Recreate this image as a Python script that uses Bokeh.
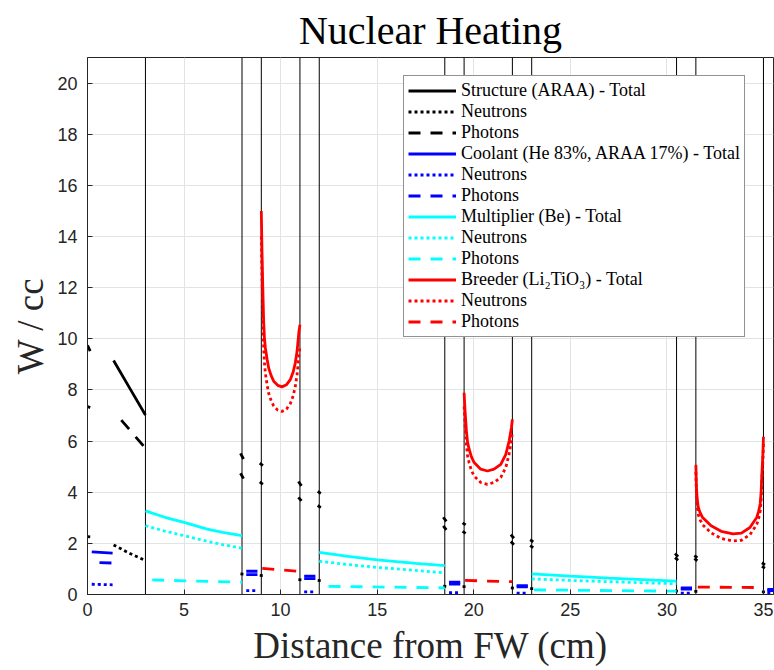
from bokeh.plotting import figure
from bokeh.models import Legend, LegendItem, FixedTicker, Title
from bokeh.embed import file_html
from bokeh.resources import INLINE

# ---------------------------------------------------------------- data (W/cc)
# Layer boundaries along the radial build (cm)
BOUNDS = [3, 8, 9, 11, 12, 18.5, 19.5, 22, 23, 30.5, 31.5, 35]

# First wall: front structure skin, He channel, back structure
FW_SKIN_X = [0.0, 0.14]
FW_SKIN_TOTAL = [9.74, 9.52]
FW_SKIN_NEUT = [2.26, 2.25]
FW_SKIN_PHOT = [7.35, 7.31]

FW_CH_X = [0.22, 1.30]
FW_CH_TOTAL = [1.67, 1.62]
FW_CH_NEUT = [0.40, 0.38]
FW_CH_PHOT_X = [0.62, 1.30]
FW_CH_PHOT = [1.25, 1.23]

FW_BACK_X = [1.35, 2.2, 3.0]
FW_BACK_TOTAL = [9.15, 8.05, 7.02]
FW_BACK_NEUT = [1.94, 1.60, 1.33]
FW_BACK_PHOT_X = [1.75, 3.0]
FW_BACK_PHOT = [6.82, 5.72]

# Cooling plates: thin structure skins at each plate edge (start, end values)
PLATE_EDGES = [8, 9, 11, 12, 18.5, 19.5, 22, 23, 30.5, 31.5, 35]
SKIN_TOTAL_A = [5.52, 5.14, 4.42, 4.03, 3.02, 2.80, 2.34, 2.14, 1.60, 1.52, 1.24]
SKIN_TOTAL_B = [5.30, 5.04, 4.25, 3.95, 2.86, 2.72, 2.20, 2.06, 1.48, 1.44, 1.16]
SKIN_PHOT_A = [4.74, 4.40, 3.80, 3.48, 2.68, 2.47, 2.07, 1.91, 1.44, 1.40, 1.10]
SKIN_PHOT_B = [4.53, 4.31, 3.66, 3.40, 2.53, 2.39, 1.95, 1.83, 1.34, 1.32, 1.03]
SKIN_NEUT_A = [0.81, 0.75, 0.58, 0.55, 0.33, 0.31, 0.26, 0.23, 0.14, 0.12, 0.10]
SKIN_NEUT_B = [0.80, 0.74, 0.57, 0.54, 0.32, 0.31, 0.25, 0.23, 0.13, 0.12, 0.10]

# Helium inside each cooling plate
PLATE_COOL_X0 = [8.22, 11.22, 18.72, 22.22, 30.72, 35.2]
PLATE_COOL_X1 = [8.80, 11.80, 19.30, 22.80, 31.30, 35.6]
PLATE_COOL_TOTAL = [0.91, 0.72, 0.48, 0.35, 0.26, 0.20]
PLATE_COOL_PHOT = [0.78, 0.62, 0.41, 0.30, 0.21, 0.15]
PLATE_COOL_NEUT = [0.15, 0.10, 0.07, 0.05, 0.05, 0.05]

# Beryllium multiplier zones
MULT_A_X = [3.0, 4.0, 5.0, 6.2, 7.0, 8.0]
MULT_A_TOTAL = [3.27, 3.02, 2.82, 2.56, 2.43, 2.30]
MULT_A_NEUT = [2.69, 2.48, 2.30, 2.08, 1.95, 1.81]
MULT_A_PHOT_X = [3.35, 8.0]
MULT_A_PHOT = [0.57, 0.48]

MULT_B_X = [12.0, 13.5, 15.0, 17.0, 18.5]
MULT_B_TOTAL = [1.65, 1.49, 1.35, 1.22, 1.13]
MULT_B_NEUT = [1.30, 1.17, 1.06, 0.94, 0.85]
MULT_B_PHOT_X = [12.48, 18.5]
MULT_B_PHOT = [0.32, 0.26]

MULT_C_X = [23.0, 25.0, 27.0, 30.5]
MULT_C_TOTAL = [0.81, 0.72, 0.64, 0.52]
MULT_C_NEUT = [0.61, 0.55, 0.50, 0.42]
MULT_C_PHOT_X = [23.12, 30.5]
MULT_C_PHOT = [0.18, 0.13]

# Li2TiO3 breeder zones
BR_A_X = [9.0, 9.03, 9.07, 9.12, 9.16, 9.21, 9.3, 9.38, 9.5, 9.64, 9.85, 10.07,
          10.3, 10.5, 10.65, 10.76, 10.85, 10.9, 10.95, 11.0]
BR_A_TOTAL = [15.0, 13.6, 12.2, 10.7, 10.05, 9.64, 9.2, 8.86, 8.58, 8.34, 8.18, 8.12,
              8.2, 8.4, 8.7, 9.06, 9.5, 9.9, 10.3, 10.55]
BR_A_NEUT = [14.0, 12.6, 11.2, 9.7, 9.07, 8.65, 8.2, 7.87, 7.6, 7.37, 7.21, 7.16,
             7.25, 7.46, 7.77, 8.14, 8.59, 8.99, 9.39, 9.65]
BR_A_PHOT_X = [9.05, 11.0]
BR_A_PHOT = [1.02, 0.90]

BR_B_X = [19.5, 19.55, 19.62, 19.68, 19.76, 19.88, 20.02, 20.36, 20.71, 21.05,
          21.4, 21.66, 21.83, 21.95, 22.0]
BR_B_TOTAL = [7.89, 7.17, 6.39, 5.95, 5.68, 5.38, 5.16, 4.9, 4.83, 4.9,
              5.09, 5.48, 6.0, 6.52, 6.85]
BR_B_NEUT = [7.35, 6.63, 5.85, 5.42, 5.15, 4.85, 4.63, 4.38, 4.31, 4.38,
             4.58, 4.97, 5.49, 6.02, 6.35]
BR_B_PHOT_X = [19.55, 22.0]
BR_B_PHOT = [0.55, 0.50]

BR_C_X = [31.5, 31.53, 31.57, 31.62, 31.72, 31.85, 32.29, 32.81, 33.42, 33.86,
          34.3, 34.65, 34.75, 34.83, 34.88, 34.91, 34.97, 35.0]
BR_C_TOTAL = [5.07, 4.18, 3.75, 3.42, 3.2, 3.01, 2.69, 2.47, 2.37, 2.4,
              2.62, 3.01, 3.25, 3.54, 4.0, 4.57, 5.48, 6.17]
BR_C_NEUT = [4.79, 3.9, 3.47, 3.14, 2.92, 2.73, 2.41, 2.19, 2.09, 2.12,
             2.34, 2.73, 2.97, 3.26, 3.72, 4.29, 5.2, 5.89]
BR_C_PHOT_X = [31.6, 35.0]
BR_C_PHOT = [0.29, 0.27]

X_TICKS = [0, 5, 10, 15, 20, 25, 30, 35]
Y_TICKS = [0, 2, 4, 6, 8, 10, 12, 14, 16, 18, 20]

# ---------------------------------------------------------------- segments
SKIN_HALF = 0.08


def skins(a_vals, b_vals):
    xs = [[e - SKIN_HALF, e + SKIN_HALF] for e in PLATE_EDGES]
    ys = [[a, b] for a, b in zip(a_vals, b_vals)]
    return xs, ys


def plate_cool(vals):
    xs = [[x0, x1] for x0, x1 in zip(PLATE_COOL_X0, PLATE_COOL_X1)]
    ys = [[v, v] for v in vals]
    return xs, ys


st_tot_xs, st_tot_ys = skins(SKIN_TOTAL_A, SKIN_TOTAL_B)
st_neu_xs, st_neu_ys = skins(SKIN_NEUT_A, SKIN_NEUT_B)
st_pho_xs, st_pho_ys = skins(SKIN_PHOT_A, SKIN_PHOT_B)

co_tot_xs, co_tot_ys = plate_cool(PLATE_COOL_TOTAL)
co_neu_xs, co_neu_ys = plate_cool(PLATE_COOL_NEUT)
co_pho_xs, co_pho_ys = plate_cool(PLATE_COOL_PHOT)

series = [
    # (label, color, style, xs, ys)
    ("Structure (ARAA) - Total", "black", "solid",
     [FW_SKIN_X, FW_BACK_X] + st_tot_xs, [FW_SKIN_TOTAL, FW_BACK_TOTAL] + st_tot_ys),
    ("Neutrons", "black", "dot",
     [FW_SKIN_X, FW_BACK_X] + st_neu_xs, [FW_SKIN_NEUT, FW_BACK_NEUT] + st_neu_ys),
    ("Photons", "black", "dash",
     [FW_SKIN_X, FW_BACK_PHOT_X] + st_pho_xs, [FW_SKIN_PHOT, FW_BACK_PHOT] + st_pho_ys),
    ("Coolant (He 83%, ARAA 17%) - Total", "#0000ff", "solid",
     [FW_CH_X] + co_tot_xs, [FW_CH_TOTAL] + co_tot_ys),
    ("Neutrons", "#0000ff", "dot",
     [FW_CH_X] + co_neu_xs, [FW_CH_NEUT] + co_neu_ys),
    ("Photons", "#0000ff", "dash",
     [FW_CH_PHOT_X] + co_pho_xs, [FW_CH_PHOT] + co_pho_ys),
    ("Multiplier (Be) - Total", "#00ffff", "solid",
     [MULT_A_X, MULT_B_X, MULT_C_X], [MULT_A_TOTAL, MULT_B_TOTAL, MULT_C_TOTAL]),
    ("Neutrons", "#00ffff", "dot",
     [MULT_A_X, MULT_B_X, MULT_C_X], [MULT_A_NEUT, MULT_B_NEUT, MULT_C_NEUT]),
    ("Photons", "#00ffff", "dash",
     [MULT_A_PHOT_X, MULT_B_PHOT_X, MULT_C_PHOT_X], [MULT_A_PHOT, MULT_B_PHOT, MULT_C_PHOT]),
    ("Breeder (Li\u2082TiO\u2083) - Total", "#ff0000", "solid",
     [BR_A_X, BR_B_X, BR_C_X], [BR_A_TOTAL, BR_B_TOTAL, BR_C_TOTAL]),
    ("Neutrons", "#ff0000", "dot",
     [BR_A_X, BR_B_X, BR_C_X], [BR_A_NEUT, BR_B_NEUT, BR_C_NEUT]),
    ("Photons", "#ff0000", "dash",
     [BR_A_PHOT_X, BR_B_PHOT_X, BR_C_PHOT_X], [BR_A_PHOT, BR_B_PHOT, BR_C_PHOT]),
]

DASHES = {"solid": "solid", "dot": "3 3", "dash": "12 10"}

# ---------------------------------------------------------------- figure
SERIF = "Liberation Serif"
SANS = "Liberation Sans"

p = figure(width=774, height=670, x_range=(0, 35.52), y_range=(0, 21),
           output_backend="svg", toolbar_location=None,
           min_border_left=87, min_border_right=1,
           min_border_top=57, min_border_bottom=76)

p.title.text = "Nuclear Heating"
p.title.align = "center"
p.title.text_font = SERIF
p.title.text_font_style = "normal"
p.title.text_font_size = "40px"
p.title.text_color = "black"
p.title.offset = 0
p.title.standoff = 10

p.outline_line_color = "#262626"
p.outline_line_width = 1
p.background_fill_color = "white"
p.border_fill_color = "white"

p.xgrid.grid_line_color = "#e3e3e3"
p.ygrid.grid_line_color = "#e3e3e3"

p.xaxis.ticker = FixedTicker(ticks=X_TICKS)
p.yaxis.ticker = FixedTicker(ticks=Y_TICKS)
for ax in (p.xaxis[0], p.yaxis[0]):
    ax.major_tick_in = 5
    ax.major_tick_out = 0
    ax.minor_tick_in = 0
    ax.minor_tick_out = 0
    ax.axis_line_color = "#262626"
    ax.major_tick_line_color = "#262626"
    ax.major_label_text_font = SANS
    ax.major_label_text_font_size = "18px"
    ax.major_label_text_color = "#262626"
p.xaxis.major_label_standoff = 8
p.yaxis.major_label_standoff = 10

# axis titles
x_title = Title(text="Distance from FW (cm)", align="center", text_font=SERIF,
                text_font_style="normal", text_font_size="37px",
                text_color="#262626", standoff=8, offset=0)
p.add_layout(x_title, "below")
y_title = Title(text="W / cc", align="center", text_font=SERIF,
                text_font_style="normal", text_font_size="37px",
                text_color="#262626", standoff=8, offset=0)
p.add_layout(y_title, "left")

# layer boundaries
p.segment(x0=BOUNDS, y0=0, x1=BOUNDS, y1=21, line_color="black", line_width=1)

items = []
for label, color, style, xs, ys in series:
    r = p.multi_line(xs=xs, ys=ys, line_color=color, line_width=2.8,
                     line_dash=DASHES[style], line_cap="butt")
    items.append(LegendItem(label=label, renderers=[r]))

legend = Legend(items=items, location=(316, 257), orientation="vertical",
                glyph_width=48, glyph_height=19, label_height=19,
                label_standoff=5, spacing=0, padding=4, margin=0,
                label_text_font=SERIF, label_text_font_size="18px",
                label_text_line_height=1.0,
                label_text_color="black",
                border_line_color="#262626", border_line_width=1,
                background_fill_color="white", background_fill_alpha=1)
p.add_layout(legend, "center")

open("out.html", "w").write(file_html(p, INLINE))
